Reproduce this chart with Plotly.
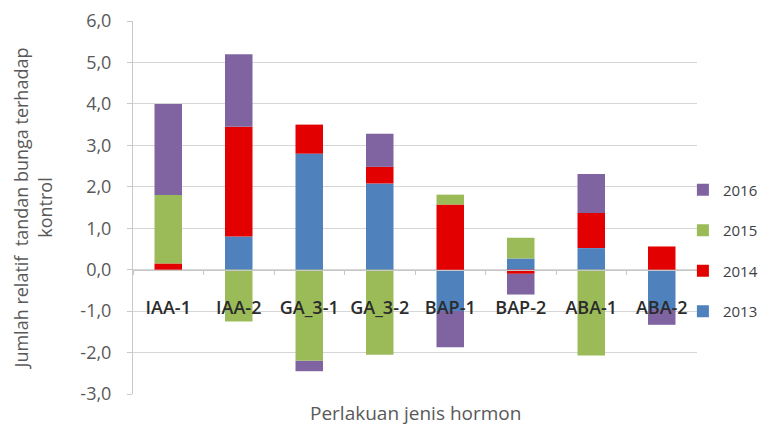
import plotly.graph_objects as go

# Treatments (categories) and relative flower-bunch values per year
categories = ["IAA-1", "IAA-2", "GA_3-1", "GA_3-2", "BAP-1", "BAP-2", "ABA-1", "ABA-2"]
years = ["2013", "2014", "2015", "2016"]
y2013 = [0.0, 0.8, 2.8, 2.08, -1.0, 0.27, 0.52, -0.95]
y2014 = [0.15, 2.65, 0.7, 0.4, 1.57, -0.1, 0.85, 0.56]
y2015 = [1.65, -1.25, -2.2, -2.05, 0.24, 0.5, -2.07, 0.0]
y2016 = [2.2, 1.75, -0.25, 0.8, -0.87, -0.5, 0.94, -0.38]
y_ticks = [-3, -2, -1, 0, 1, 2, 3, 4, 5, 6]
y_ticktext = [f"{v:.1f}".replace(".", ",") for v in y_ticks]

series = [y2013, y2014, y2015, y2016]
colors = ["#4f81bd", "#e30000", "#9bbb59", "#8064a2"]

Y_MIN, Y_MAX = -3, 6

fig = go.Figure()
for i, (name, vals, col) in enumerate(zip(years, series, colors)):
    fig.add_trace(go.Bar(
        x=categories, y=vals, name=name, legendgroup=name,
        legendrank=len(years) - i,
        marker=dict(color=col, line=dict(width=0)),
    ))

fig.update_layout(
    width=759, height=425,
    margin=dict(l=133, r=62, t=21, b=31, autoexpand=False),
    paper_bgcolor="white", plot_bgcolor="white",
    barmode="relative", bargap=0.61,
    font=dict(family="Open Sans", color="#595959"),
    showlegend=True,
    legend=dict(
        x=0.975, xanchor="left", y=0.385, yanchor="middle",
        bgcolor="rgba(255,255,255,0)", borderwidth=0,
        traceorder="grouped", tracegroupgap=18,
        font=dict(size=15, color="#404040"),
        itemwidth=30,
    ),
    xaxis=dict(
        type="category",
        anchor="free", position=(0 - Y_MIN) / (Y_MAX - Y_MIN),
        showline=True, linecolor="#c8c8c8", linewidth=1,
        ticks="outside", tickson="boundaries", ticklen=4, tickcolor="#c8c8c8",
        ticklabelstandoff=22,
        tickfont=dict(size=18, color="#2b2b2b", weight=600),
        showgrid=False, zeroline=False,
    ),
    yaxis=dict(
        range=[Y_MIN, Y_MAX], tickvals=y_ticks, ticktext=y_ticktext,
        showgrid=True, gridcolor="#d6d6d6", gridwidth=1,
        zeroline=False,
        showline=True, linecolor="#c8c8c8", linewidth=1,
        ticks="outside", ticklen=5, tickcolor="#c8c8c8",
        ticklabelstandoff=12,
        tickfont=dict(size=18, color="#595959"),
        title=dict(
            text="Jumlah relatif  tandan bunga terhadap<br>kontrol",
            font=dict(size=18, color="#595959"), standoff=23,
        ),
    ),
    annotations=[dict(
        text="Perlakuan jenis hormon", xref="paper", yref="paper",
        x=0.5, y=-0.051, xanchor="center", yanchor="middle", showarrow=False,
        font=dict(size=19, color="#595959"),
    )],
)

fig.write_html("out.html")
